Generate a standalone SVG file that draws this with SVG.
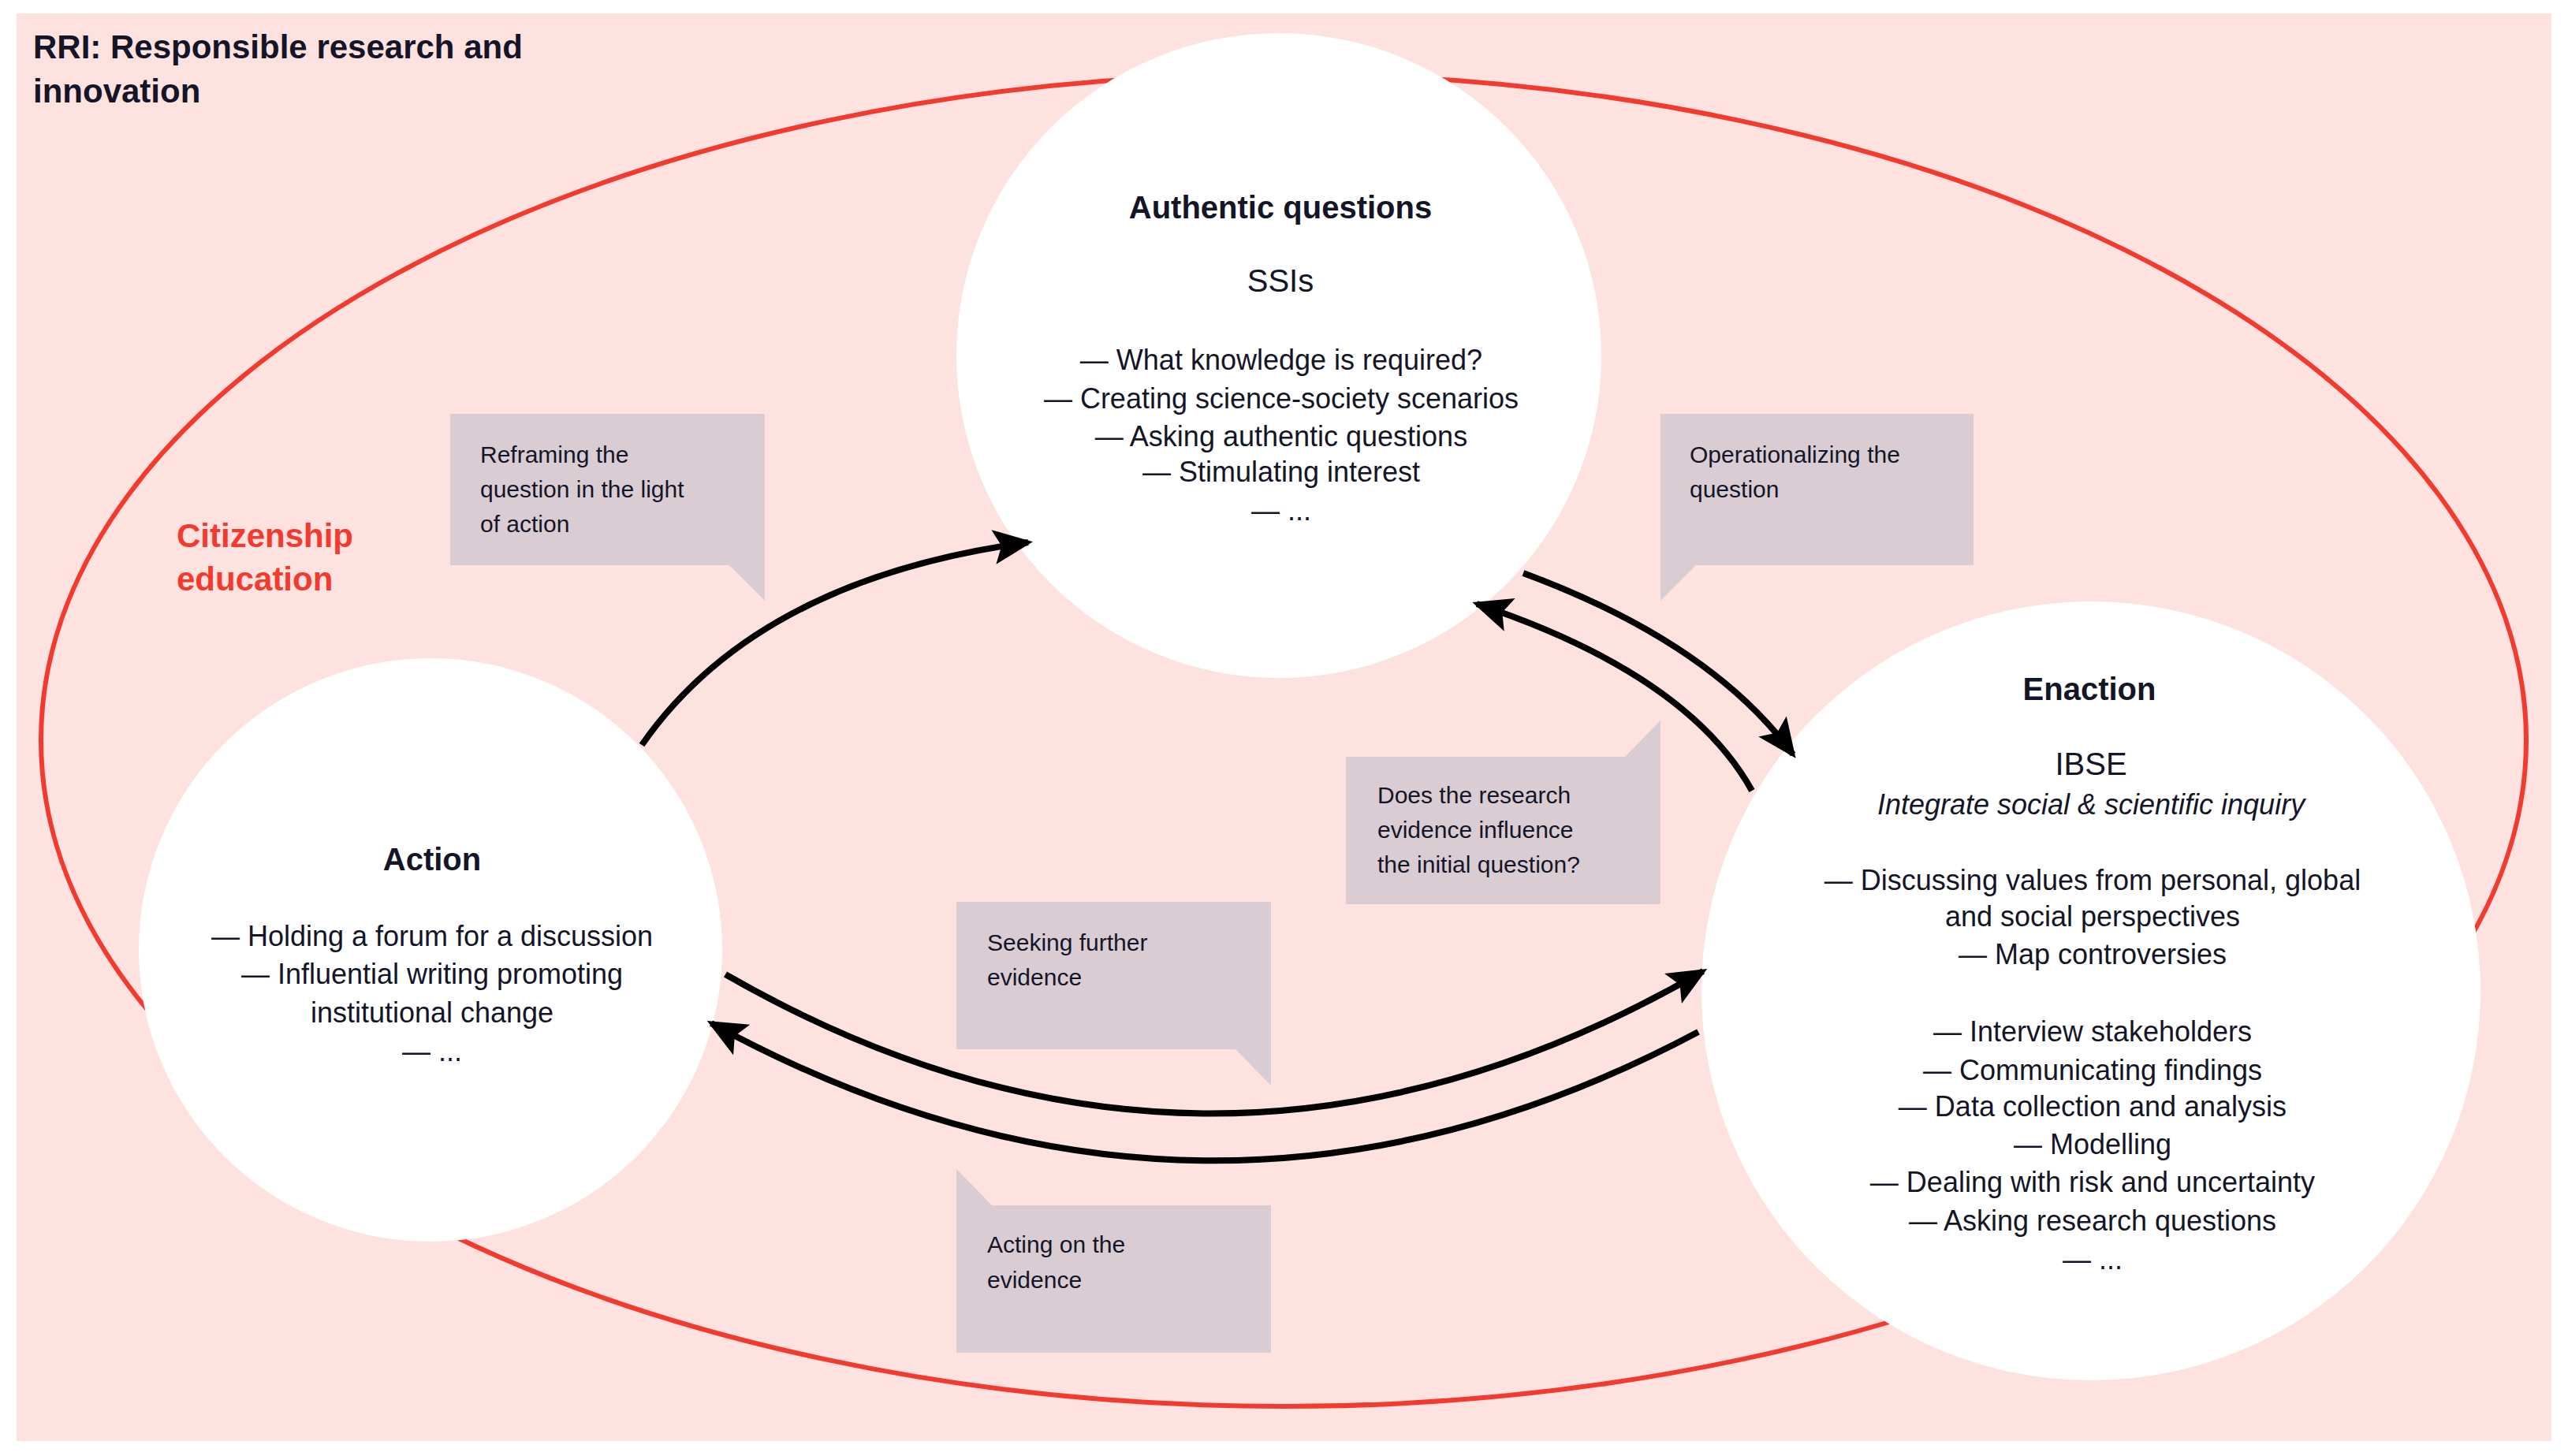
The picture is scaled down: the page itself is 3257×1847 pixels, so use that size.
<svg xmlns="http://www.w3.org/2000/svg" width="3257" height="1847" viewBox="0 0 3257 1847">
<style>
text{font-family:"Liberation Sans",Arial,sans-serif;fill:#151528}
.h{font-size:40px;font-weight:bold;text-anchor:middle}
.s{font-size:40px;text-anchor:middle}
.l{font-size:36px;text-anchor:middle}
.c{font-size:30px}
.box{fill:#d9cdd3}
.circ{fill:#fff}
.arr{fill:none;stroke:#000;stroke-width:8;marker-end:url(#ah)}
</style>
<defs>
<marker id="ah" markerUnits="userSpaceOnUse" markerWidth="52" markerHeight="44" refX="44" refY="22" orient="auto">
<path d="M0,0 L50,22 L0,44 L10,22 Z" fill="#000"/>
</marker>
</defs>
<rect x="0" y="0" width="3257" height="1847" fill="#fff"/>
<rect x="21" y="17" width="3215" height="1811" fill="#fde2df"/>
<ellipse cx="1628" cy="939" rx="1576" ry="845" fill="none" stroke="#f23a2f" stroke-width="6"/>
<text x="42" y="74" style="font-size:42px;font-weight:bold">RRI: Responsible research and</text>
<text x="42" y="130" style="font-size:42px;font-weight:bold">innovation</text>
<text x="224" y="694" style="font-size:42px;font-weight:bold;fill:#f23a2f">Citizenship</text>
<text x="224" y="749" style="font-size:42px;font-weight:bold;fill:#f23a2f">education</text>
<g id="callouts">
<g id="c1"><rect class="box" x="571" y="525" width="399" height="192"/><path class="box" d="M924,716 L970,716 L970,762 Z"/>
<text class="c" x="609" y="587">Reframing the</text><text class="c" x="609" y="631">question in the light</text><text class="c" x="609" y="675">of action</text></g>
<g id="c2"><rect class="box" x="2106" y="525" width="397" height="192"/><path class="box" d="M2106,716 L2152,716 L2106,762 Z"/>
<text class="c" x="2143" y="587">Operationalizing the</text><text class="c" x="2143" y="631">question</text></g>
<g id="c3"><rect class="box" x="1707" y="960" width="399" height="187"/><path class="box" d="M2106,914 L2106,961 L2060,961 Z"/>
<text class="c" x="1747" y="1019">Does the research</text><text class="c" x="1747" y="1063">evidence influence</text><text class="c" x="1747" y="1107">the initial question?</text></g>
<g id="c4"><rect class="box" x="1213" y="1144" width="399" height="187"/><path class="box" d="M1566,1330 L1612,1330 L1612,1377 Z"/>
<text class="c" x="1252" y="1206">Seeking further</text><text class="c" x="1252" y="1250">evidence</text></g>
<g id="c5"><rect class="box" x="1213" y="1529" width="399" height="187"/><path class="box" d="M1213,1483 L1213,1530 L1259,1530 Z"/>
<text class="c" x="1252" y="1589">Acting on the</text><text class="c" x="1252" y="1634">evidence</text></g>
</g>
<g id="authentic"><circle class="circ" cx="1622" cy="451" r="409"/>
<text class="h" x="1624" y="277">Authentic questions</text>
<text class="s" x="1624" y="370">SSIs</text>
<text class="l" x="1625" y="469">— What knowledge is required?</text>
<text class="l" x="1625" y="518">— Creating science-society scenarios</text>
<text class="l" x="1625" y="566">— Asking authentic questions</text>
<text class="l" x="1625" y="611">— Stimulating interest</text>
<text class="l" x="1625" y="660">— ...</text></g>
<g id="action"><circle class="circ" cx="546" cy="1205" r="370"/>
<text class="h" x="548" y="1104">Action</text>
<text class="l" x="548" y="1200">— Holding a forum for a discussion</text>
<text class="l" x="548" y="1248">— Influential writing promoting</text>
<text class="l" x="548" y="1297">institutional change</text>
<text class="l" x="548" y="1346">— ...</text></g>
<g id="enaction"><circle class="circ" cx="2652" cy="1257" r="494"/>
<text class="h" x="2650" y="888">Enaction</text>
<text class="s" x="2652" y="983">IBSE</text>
<text class="l" x="2652" y="1033" style="font-style:italic">Integrate social &amp; scientific inquiry</text>
<text class="l" x="2654" y="1129">— Discussing values from personal, global</text>
<text class="l" x="2654" y="1175">and social perspectives</text>
<text class="l" x="2654" y="1223">— Map controversies</text>
<text class="l" x="2654" y="1321">— Interview stakeholders</text>
<text class="l" x="2654" y="1370">— Communicating findings</text>
<text class="l" x="2654" y="1416">— Data collection and analysis</text>
<text class="l" x="2654" y="1464">— Modelling</text>
<text class="l" x="2654" y="1512">— Dealing with risk and uncertainty</text>
<text class="l" x="2654" y="1561">— Asking research questions</text>
<text class="l" x="2654" y="1610">— ...</text></g>
<g id="connectors">
<path class="arr" d="M814,945 Q960,735 1304,688"/>
<path class="arr" d="M1932,727 Q2170,815 2274,957"/>
<path class="arr" d="M2222,1003 Q2140,855 1873,766"/>
<path class="arr" d="M920,1236 Q1538,1591 2160,1232"/>
<path class="arr" d="M2154,1309 Q1530,1641 902,1298"/>
</g>
</svg>
